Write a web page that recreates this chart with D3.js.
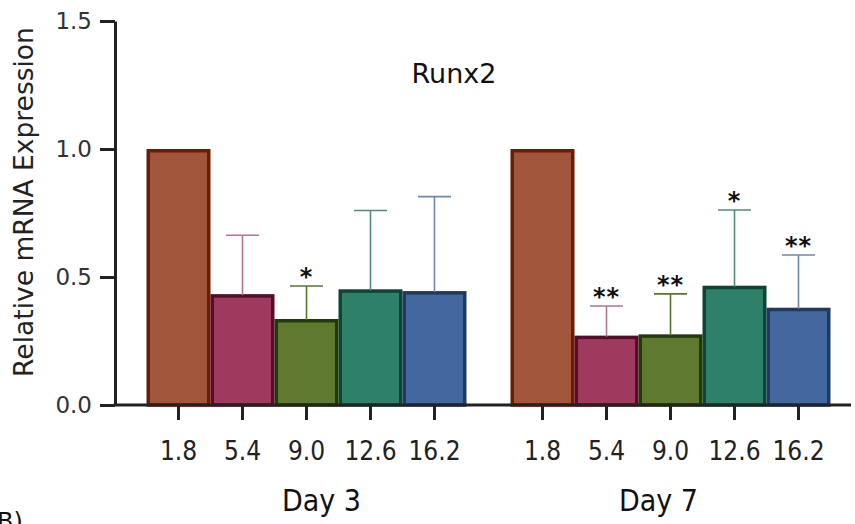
<!DOCTYPE html>
<html>
<head>
<meta charset="utf-8">
<script src="https://cdn.jsdelivr.net/npm/d3@7"></script>
<style>
  body { margin: 0; background: #fff; }
  svg { display: block; }
</style>
</head>
<body>
<script>
// data
var days = ["Day 3", "Day 7"];
var doses = ["1.8", "5.4", "9.0", "12.6", "16.2"];
var meanDay3 = [1.0, 0.433, 0.336, 0.452, 0.445];
var meanDay7 = [1.0, 0.271, 0.276, 0.466, 0.380];
var sdDay3 = [0, 0.230, 0.129, 0.308, 0.369];
var sdDay7 = [0, 0.116, 0.158, 0.296, 0.206];
var sigDay3 = ["", "", "*", "", ""];
var sigDay7 = ["", "**", "**", "*", "**"];
var yTicks = [0, 0.5, 1.0, 1.5];

var fills = ["#a1563b", "#9e3a5d", "#5f7a2e", "#2e8068", "#43679e"];
var strokes = ["#6a1c04", "#5a0b2b", "#1f3b07", "#0d4535", "#1f3a60"];
var errColors = ["#6a1c04", "#b27592", "#56742c", "#4f8c7e", "#6c87ab"];

var width = 855, height = 524;

var rows = [];
days.forEach(function(day, i) {
	var m = i === 0 ? meanDay3 : meanDay7,
		s = i === 0 ? sdDay3 : sdDay7,
		g = i === 0 ? sigDay3 : sigDay7;
	doses.forEach(function(dose, j) {
		rows.push({ day: day, dose: dose, idx: j, mean: m[j], sd: s[j], sig: g[j] });
	});
});

var svg = d3.select("body").append("svg")
	.attr("width", width)
	.attr("height", height);

/*
 * Scales
 */
var y = d3.scaleLinear().domain([0, 1.5]).range([405, 21]);

var x0 = d3.scaleBand()
	.domain(days)
	.range([146.5, 830.5])
	.paddingInner(44 / 364)
	.paddingOuter(0);

var x1 = d3.scaleBand()
	.domain(doses)
	.range([0, x0.bandwidth()])
	.padding(0);

/*
 * Bars
 */
var bars = svg.append("g");

bars.selectAll("rect")
	.data(rows)
	.enter().append("rect")
	.attr("x", function(d) { return x0(d.day) + x1(d.dose) + 1.75; })
	.attr("y", function(d) { return y(d.mean) + 1.75; })
	.attr("width", x1.bandwidth() - 3.5)
	.attr("height", function(d) { return y(0) - y(d.mean) - 1.75; })
	.style("fill", function(d) { return fills[d.idx]; })
	.style("stroke", function(d) { return strokes[d.idx]; })
	.style("stroke-width", 3.5);

/*
 * Error bars (upper only)
 */
var err = svg.append("g")
	.selectAll("g")
	.data(rows.filter(function(d) { return d.sd > 0; }))
	.enter().append("g")
	.style("stroke", function(d) { return errColors[d.idx]; })
	.style("stroke-width", 1.6);

err.append("line")
	.attr("x1", function(d) { return x0(d.day) + x1(d.dose) + x1.bandwidth() / 2; })
	.attr("x2", function(d) { return x0(d.day) + x1(d.dose) + x1.bandwidth() / 2; })
	.attr("y1", function(d) { return y(d.mean) + 1; })
	.attr("y2", function(d) { return y(d.mean + d.sd); });

err.append("line")
	.attr("x1", function(d) { return x0(d.day) + x1(d.dose) + x1.bandwidth() / 2 - 16.5; })
	.attr("x2", function(d) { return x0(d.day) + x1(d.dose) + x1.bandwidth() / 2 + 16.5; })
	.attr("y1", function(d) { return y(d.mean + d.sd); })
	.attr("y2", function(d) { return y(d.mean + d.sd); });

/*
 * Significance stars
 */
svg.append("g")
	.selectAll("text")
	.data(rows.filter(function(d) { return d.sig !== ""; }))
	.enter().append("text")
	.attr("x", function(d) { return x0(d.day) + x1(d.dose) + x1.bandwidth() / 2; })
	.attr("y", function(d) { return y(d.mean + d.sd) - 1; })
	.attr("text-anchor", "middle")
	.style("font-family", "'DejaVu Sans', sans-serif")
	.style("font-weight", "bold")
	.style("font-size", "24px")
	.style("letter-spacing", "1px")
	.style("fill", "#111")
	.text(function(d) { return d.sig; });

/*
 * Y axis
 */
var yAxis = svg.append("g")
	.attr("transform", "translate(115,0)")
	.call(d3.axisLeft(y)
		.tickValues(yTicks)
		.tickFormat(d3.format(".1f"))
		.tickSize(15)
		.tickSizeOuter(0)
		.tickPadding(8));

yAxis.select(".domain").attr("stroke", "#222").attr("stroke-width", 3);
yAxis.selectAll(".tick line").attr("stroke", "#222").attr("stroke-width", 3);
yAxis.selectAll(".tick text")
	.style("font-family", "'DejaVu Sans', sans-serif")
	.style("font-size", "23px")
	.style("fill", "#333");

/*
 * X axis: one baseline, ticks per group
 */
days.forEach(function(day) {
	var gx = svg.append("g")
		.attr("transform", "translate(" + x0(day) + ",405)")
		.call(d3.axisBottom(x1).tickSize(15).tickSizeOuter(0));
	gx.select(".domain").remove();
	gx.selectAll(".tick line").attr("stroke", "#222").attr("stroke-width", 3);
	gx.selectAll(".tick text")
		.attr("y", 37)
		.style("font-family", "'DejaVu Sans Condensed', 'DejaVu Sans', sans-serif")
		.style("font-stretch", "condensed")
		.style("font-size", "26px")
		.style("fill", "#222");
});

svg.append("line")
	.attr("x1", 113.5)
	.attr("x2", 851)
	.attr("y1", y(0))
	.attr("y2", y(0))
	.attr("stroke", "#222")
	.attr("stroke-width", 3);

// group labels
var dayOffset = [15, -12];
svg.append("g")
	.selectAll("text")
	.data(days)
	.enter().append("text")
	.attr("x", function(d, i) { return x0(d) + x0.bandwidth() / 2 + dayOffset[i]; })
	.attr("y", 511)
	.attr("text-anchor", "middle")
	.style("font-family", "'DejaVu Sans Condensed', 'DejaVu Sans', sans-serif")
	.style("font-stretch", "condensed")
	.style("font-size", "30px")
	.style("fill", "#111")
	.text(function(d) { return d; });

// y title
svg.append("text")
	.attr("transform", "translate(33,202) rotate(-90)")
	.attr("text-anchor", "middle")
	.style("font-family", "'DejaVu Sans', sans-serif")
	.style("font-size", "26.5px")
	.style("fill", "#222")
	.text("Relative mRNA Expression");

// chart title
svg.append("text")
	.attr("x", 454)
	.attr("y", 83)
	.attr("text-anchor", "middle")
	.style("font-family", "'DejaVu Sans', sans-serif")
	.style("font-size", "27px")
	.style("fill", "#111")
	.text("Runx2");

// panel letter, partly below the bottom edge as in the figure
svg.append("text")
	.attr("x", -3)
	.attr("y", 530)
	.style("font-family", "'DejaVu Sans', sans-serif")
	.style("font-size", "24px")
	.style("fill", "#111")
	.text("B)");
</script>
</body>
</html>
